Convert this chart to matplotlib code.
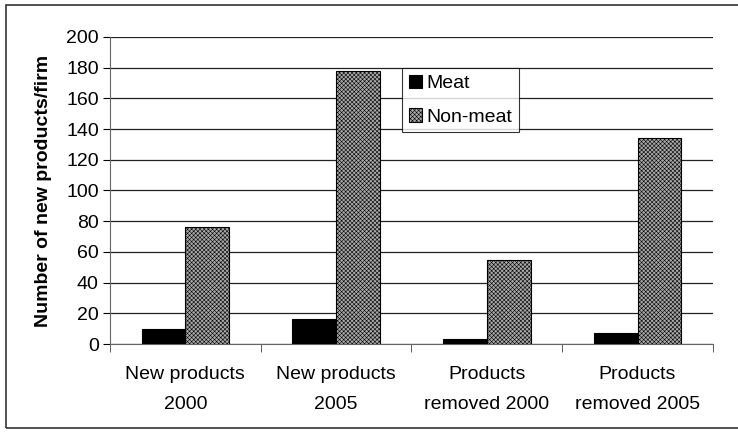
import numpy as np
import matplotlib.pyplot as plt
from matplotlib.patches import Rectangle

plt.rcParams['font.family'] = ['Liberation Sans', 'DejaVu Sans']
plt.rcParams['hatch.linewidth'] = 0.4

# dados
categorias = ["New products\n2000", "New products\n2005",
              "Products\nremoved 2000", "Products\nremoved 2005"]
carne = [10, 16, 3, 7]
nao_carne = [76, 178, 55, 134]
y_ticks = [0, 20, 40, 60, 80, 100, 120, 140, 160, 180, 200]

fig = plt.figure(figsize=(7.38, 4.32), dpi=100)
# moldura externa
fig.patches.append(Rectangle((0.008, 0.01), 0.995, 0.978, transform=fig.transFigure,
                             fill=False, edgecolor='#333333', linewidth=1.2))
ax = fig.add_axes([0.149, 0.2037, 0.817, 0.7107])

x = np.arange(len(categorias))
largura = 0.29
ax.bar(x - largura / 2, carne, largura, color='black', edgecolor='black',
       linewidth=0.8, label='Meat', zorder=3)
ax.bar(x + largura / 2, nao_carne, largura, color='#a8a8a8', edgecolor='black',
       hatch='xxxxxxxx', linewidth=0.8, label='Non-meat', zorder=3)

ax.set_xlim(-0.5, len(categorias) - 0.5)
ax.set_ylim(0, 200)
ax.set_yticks(y_ticks)
ax.tick_params(axis='y', labelsize=14, length=5, direction='out', pad=3)
ax.set_xticks(x)
ax.set_xticklabels(categorias, fontsize=14, linespacing=2.0)
ax.tick_params(axis='x', length=0, pad=16)
# ticks entre categorias
ax.set_xticks(np.arange(len(categorias) + 1) - 0.5, minor=True)
ax.tick_params(axis='x', which='minor', length=6, direction='out', color='#444444')

ax.grid(axis='y', color='#222222', linewidth=0.9, zorder=0)
for lado in ['top', 'right']:
    ax.spines[lado].set_visible(False)
ax.spines['left'].set_color('#666666')
ax.spines['bottom'].set_color('#666666')

ax.set_ylabel("Number of new products/firm", fontsize=14, fontweight='bold', labelpad=10)

leg = ax.legend(loc='upper left', bbox_to_anchor=(0.484, 0.899), fontsize=14,
                frameon=True, fancybox=False, edgecolor='black', handlelength=0.7,
                handleheight=0.7, handletextpad=0.2, borderpad=0.35, labelspacing=0.8,
                borderaxespad=0)
leg.get_frame().set_linewidth(0.8)

plt.savefig('out.png', dpi=100)
